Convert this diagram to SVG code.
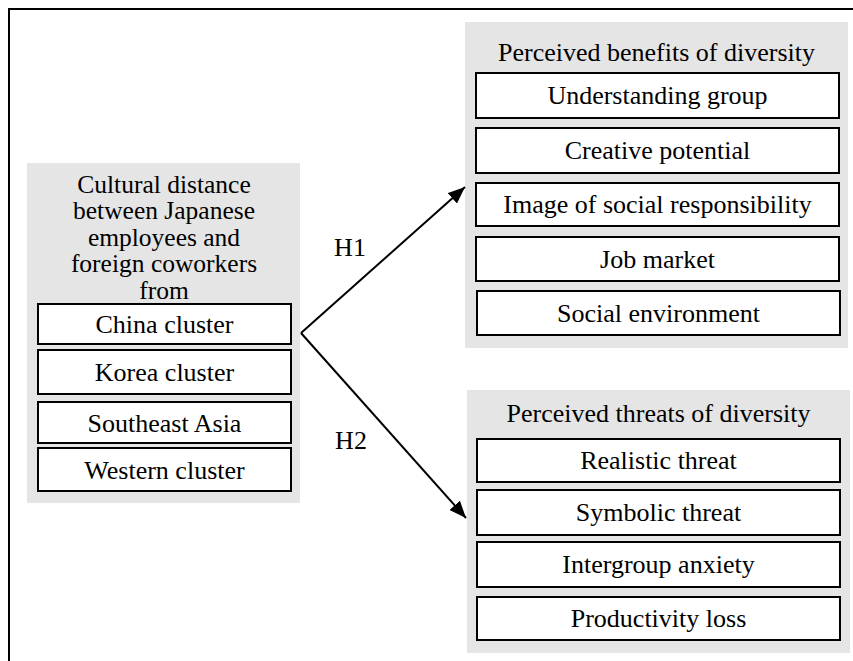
<svg xmlns="http://www.w3.org/2000/svg" width="853" height="661" viewBox="0 0 853 661">
<defs>
<style>
.panel{fill:#e5e5e5;stroke:none}
.box{fill:#ffffff;stroke:#000;stroke-width:2}
.t{font-family:"Liberation Serif","Times New Roman",serif;font-size:26px;fill:#000;text-anchor:middle}
.tl{font-size:25.5px}
.conn{stroke:#000;stroke-width:2;fill:none}
</style>
<marker id="arr" markerUnits="userSpaceOnUse" markerWidth="18" markerHeight="14" refX="17" refY="7" orient="auto">
<path d="M0,0 L17,7 L0,14 z" fill="#000"/>
</marker>
</defs>
<rect width="853" height="661" fill="#fff"/>
<path d="M9,661 V9 H853" fill="none" stroke="#000" stroke-width="2"/>

<g id="source">
<rect class="panel" x="27" y="163" width="273" height="340"/>
<text class="t tl" x="164" y="192.5">Cultural distance</text>
<text class="t tl" x="164" y="219">between Japanese</text>
<text class="t tl" x="164" y="245.5">employees and</text>
<text class="t tl" x="164" y="272">foreign coworkers</text>
<text class="t tl" x="164" y="298.5">from</text>
</g>
<g id="china"><rect class="box" x="38" y="304" width="253" height="40"/><text class="t" x="164.5" y="333">China cluster</text></g>
<g id="korea"><rect class="box" x="38" y="350" width="253" height="44"/><text class="t" x="164.5" y="381">Korea cluster</text></g>
<g id="seasia"><rect class="box" x="38" y="402" width="253" height="41"/><text class="t" x="164.5" y="431.5">Southeast Asia</text></g>
<g id="western"><rect class="box" x="38" y="448" width="253" height="43"/><text class="t" x="164.5" y="478.5">Western cluster</text></g>

<g id="benefits">
<rect class="panel" x="465" y="22" width="383" height="326"/>
<text class="t" x="656.5" y="61">Perceived benefits of diversity</text>
</g>
<g id="understanding"><rect class="box" x="476" y="73" width="363" height="45"/><text class="t" x="657.5" y="104">Understanding group</text></g>
<g id="creative"><rect class="box" x="476" y="128" width="363" height="45"/><text class="t" x="657.5" y="159">Creative potential</text></g>
<g id="image"><rect class="box" x="476" y="183" width="363" height="43"/><text class="t" x="657.5" y="213">Image of social responsibility</text></g>
<g id="job"><rect class="box" x="476" y="237" width="363" height="44"/><text class="t" x="657.5" y="268">Job market</text></g>
<g id="socialenv"><rect class="box" x="477" y="291" width="363" height="44"/><text class="t" x="658.5" y="322">Social environment</text></g>

<g id="threats">
<rect class="panel" x="467" y="390" width="383" height="263"/>
<text class="t" x="658.5" y="422">Perceived threats of diversity</text>
</g>
<g id="realistic"><rect class="box" x="477" y="439" width="363" height="43"/><text class="t" x="658.5" y="469">Realistic threat</text></g>
<g id="symbolic"><rect class="box" x="477" y="490" width="363" height="45"/><text class="t" x="658.5" y="521">Symbolic threat</text></g>
<g id="anxiety"><rect class="box" x="477" y="542" width="363" height="45"/><text class="t" x="658.5" y="573">Intergroup anxiety</text></g>
<g id="productivity"><rect class="box" x="477" y="597" width="363" height="43"/><text class="t" x="658.5" y="627">Productivity loss</text></g>

<g id="connectors">
<path class="conn" d="M301,333 L465,187" marker-end="url(#arr)"/>
<path class="conn" d="M301,333 L466,518" marker-end="url(#arr)"/>
<text class="t" x="350" y="256">H1</text>
<text class="t" x="351" y="449">H2</text>
</g>
</svg>
